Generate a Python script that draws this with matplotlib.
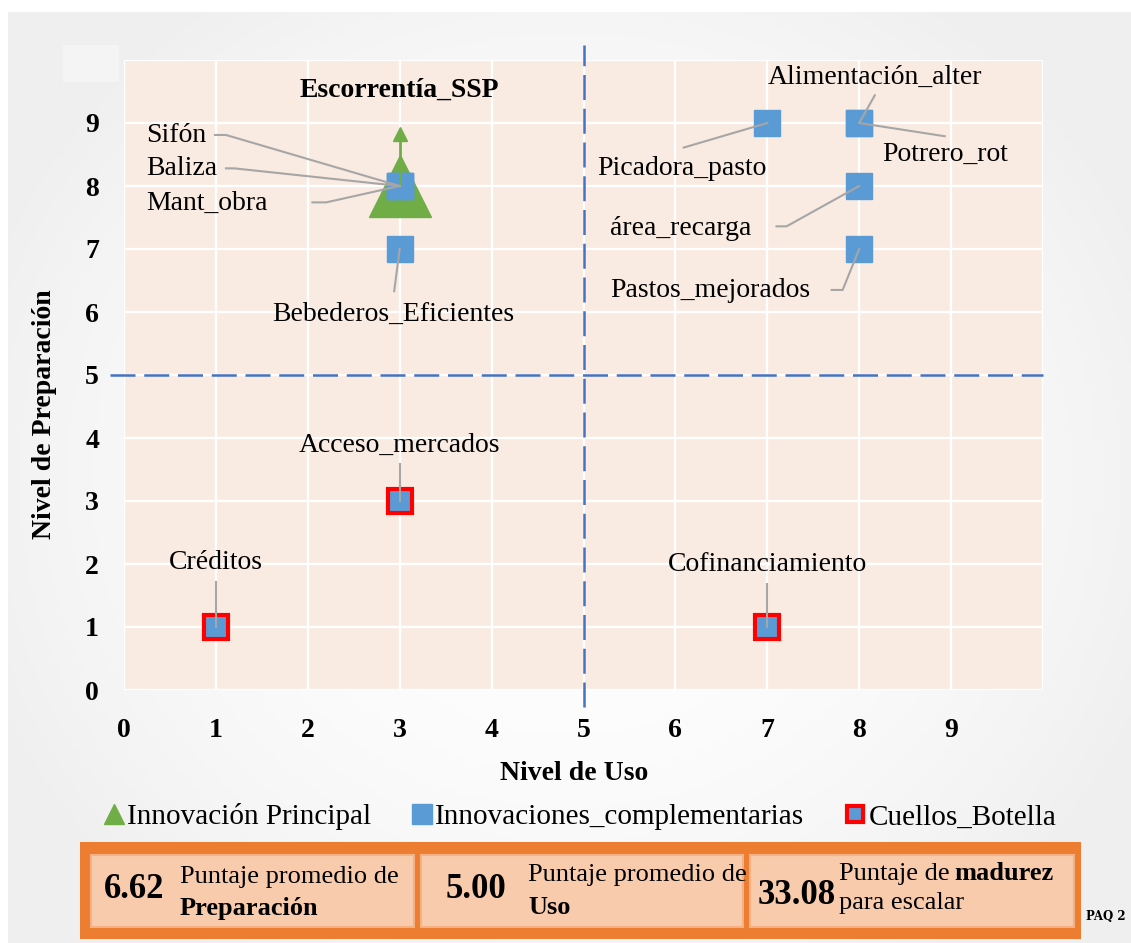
import matplotlib

matplotlib.use("Agg")
import matplotlib.pyplot as plt
import numpy as np
from matplotlib.lines import Line2D
from matplotlib.patches import Rectangle

plt.rcParams["font.family"] = ["Liberation Serif", "DejaVu Serif"]

# --- data -------------------------------------------------------------
main_names = ["Escorrentía_SSP"]
main_uso = [3]
main_prep = [8]
main_err_up = [0.82]

comp_names = [
    "Sifón", "Baliza", "Mant_obra", "Bebederos_Eficientes", "Picadora_pasto",
    "Alimentación_alter", "Potrero_rot", "área_recarga", "Pastos_mejorados",
]
comp_uso = [3, 3, 3, 3, 7, 8, 8, 8, 8]
comp_prep = [8, 8, 8, 7, 9, 9, 9, 8, 7]

neck_names = ["Acceso_mercados", "Créditos", "Cofinanciamiento"]
neck_uso = [3, 1, 7]
neck_prep = [3, 1, 1]

umbral = 5
score_values = ["6.62", "5.00", "33.08"]
score_labels = [
    ("Puntaje promedio de", "Preparación"),
    ("Puntaje promedio de", "Uso"),
    ("Puntaje de", "para escalar"),
]

legend_labels = ["Innovación Principal", "Innovaciones_complementarias", "Cuellos_Botella"]

# --- label layout: text position, alignment, leader elbow points ------
LABELS = {
    "Escorrentía_SSP": ((3.0, 9.52), "center", "bold", []),
    "Sifón": ((0.24, 8.80), "left", "normal", [(0.99, 8.81), (1.11, 8.81)]),
    "Baliza": ((0.24, 8.28), "left", "normal", [(1.11, 8.28), (1.20, 8.28)]),
    "Mant_obra": ((0.24, 7.73), "left", "normal", [(2.05, 7.74), (2.20, 7.74)]),
    "Bebederos_Eficientes": ((2.93, 5.96), "center", "normal", [(2.94, 6.33)]),
    "Picadora_pasto": ((6.07, 8.27), "center", "normal", [(6.09, 8.61)]),
    "Alimentación_alter": ((8.17, 9.73), "center", "normal", [(8.17, 9.44)]),
    "Potrero_rot": ((8.93, 8.50), "center", "normal", [(8.93, 8.79)]),
    "área_recarga": ((6.06, 7.32), "center", "normal", [(7.10, 7.36), (7.21, 7.36)]),
    "Pastos_mejorados": ((6.38, 6.34), "center", "normal", [(7.70, 6.35), (7.82, 6.35)]),
    "Acceso_mercados": ((3.0, 3.89), "center", "normal", [(3.0, 3.58)]),
    "Créditos": ((1.0, 2.03), "center", "normal", [(1.0, 1.71)]),
    "Cofinanciamiento": ((7.0, 1.99), "center", "normal", [(7.0, 1.68)]),
}

GREEN = "#70AD47"
BLUE = "#5B9BD5"
RED = "#FF0000"
DASH = "#4472C4"
LEADER = "#A6A6A6"

W, H = 1131, 943
fig = plt.figure(figsize=(W / 100, H / 100), dpi=100)
fig.patch.set_facecolor("white")

# background in pixel coordinates
bg = fig.add_axes([0, 0, 1, 1], zorder=-10)
bg.set_xlim(0, W)
bg.set_ylim(H, 0)
bg.axis("off")
gx, gy = np.meshgrid(np.linspace(-1, 1, 300), np.linspace(-1, 1, 250))
r = np.clip(np.sqrt((gx * 0.9) ** 2 + (gy * 0.8) ** 2), 0, 1)
shade = 1.0 - 0.06 * r ** 2
bg.imshow(np.dstack([shade] * 3), extent=(8, W, H, 12), aspect="auto", zorder=0)
bg.add_patch(Rectangle((63, 45), 56, 37, facecolor="white", edgecolor="none", alpha=0.35, zorder=1))

# main axes
ax = fig.add_axes([124 / W, 1 - 690 / H, 919 / W, 630 / H])
ax.set_facecolor("#FAEBE2")
ax.set_xlim(0, 10)
ax.set_ylim(0, 10)
for s in ax.spines.values():
    s.set_visible(False)
ticks = np.arange(0, 11)
ax.set_xticks(ticks)
ax.set_yticks(ticks)
ax.set_xticklabels([str(t) if t < 10 else "" for t in ticks])
ax.set_yticklabels([str(t) if t < 10 else "" for t in ticks])
ax.tick_params(length=0, labelsize=20, pad=0)
ax.tick_params(axis="x", pad=20)
ax.tick_params(axis="y", pad=18)
for lab in ax.get_xticklabels() + ax.get_yticklabels():
    lab.set_fontweight("bold")
ax.grid(True, color="white", linewidth=1.6)
ax.set_axisbelow(True)

ax.set_xlabel("Nivel de Uso", fontsize=20, fontweight="bold", va="center")
ax.xaxis.set_label_coords(0.49, -0.132)
ax.set_ylabel("Nivel de Preparación", fontsize=20, fontweight="bold", va="center")
ax.yaxis.set_label_coords(-0.086, 0.438)

# quadrant lines
hl = ax.plot([-0.15, 10], [umbral, umbral], color=DASH, lw=1.8, clip_on=False, zorder=2)[0]
vl = ax.plot([umbral, umbral], [-0.27, 10.24], color=DASH, lw=1.8, clip_on=False, zorder=2)[0]
for ln in (hl, vl):
    ln.set_dashes((10, 3.5))

# markers
ax.plot(main_uso, main_prep, "^", color=GREEN, ms=44, zorder=3)
ax.plot(comp_uso, comp_prep, "s", color=BLUE, ms=19, zorder=4)
ax.plot(neck_uso, neck_prep, "s", mfc=BLUE, mec=RED, mew=3, ms=17.5, zorder=4)
ax.errorbar(main_uso, main_prep, yerr=[[0] * len(main_err_up), main_err_up],
            fmt="none", ecolor=GREEN, elinewidth=2, capsize=0, zorder=5)
ax.plot(main_uso, np.add(main_prep, main_err_up), "^", color=GREEN, ms=10, zorder=5)

# labels and leader lines
points = {}
for names, xs, ys in ((main_names, main_uso, main_prep),
                      (comp_names, comp_uso, comp_prep),
                      (neck_names, neck_uso, neck_prep)):
    for n, x, y in zip(names, xs, ys):
        points[n] = (x, y)

for name, (x, y) in points.items():
    (tx, ty), ha, weight, elbow = LABELS[name]
    ax.text(tx, ty, name, fontsize=20, ha=ha, va="center", fontweight=weight, zorder=7)
    if elbow:
        path = elbow + [(x, y)]
        ax.plot([p[0] for p in path], [p[1] for p in path], color=LEADER, lw=1.5, zorder=6)

# legend
handles = [
    Line2D([], [], marker="^", color=GREEN, ls="", ms=14),
    Line2D([], [], marker="s", color=BLUE, ls="", ms=14.5),
    Line2D([], [], marker="s", mfc=BLUE, mec=RED, mew=3, ls="", ms=12),
]
fig.legend(handles, legend_labels, loc="center", bbox_to_anchor=(580 / W, 1 - 817 / H),
           ncol=3, frameon=False, fontsize=21, handlelength=0.7, handletextpad=0.1,
           columnspacing=1.4, borderpad=0)

# score boxes
bg.add_patch(Rectangle((80, 842), 1001, 97, facecolor="#ED7D31", edgecolor="none", zorder=2))
box_x = [(91, 414), (421, 743), (750, 1074)]
for x0, x1 in box_x:
    bg.add_patch(Rectangle((x0, 855), x1 - x0, 72, facecolor="#F8CBAD",
                           edgecolor="#F4B183", lw=1.5, zorder=3))

num_pos = [(104, 890), (446, 890), (758, 895)]
for val, (x, y) in zip(score_values, num_pos):
    bg.text(x, y, val, fontsize=25, fontweight="bold", ha="left", va="center", zorder=4)

bg.text(180, 877, score_labels[0][0], fontsize=19, ha="left", va="center", zorder=4)
bg.text(180, 908, score_labels[0][1], fontsize=19, fontweight="bold", ha="left", va="center", zorder=4)
bg.text(528, 875, score_labels[1][0], fontsize=19, ha="left", va="center", zorder=4)
bg.text(528, 908, score_labels[1][1], fontsize=19, fontweight="bold", ha="left", va="center", zorder=4)
t1 = bg.text(839, 880, score_labels[2][0], fontsize=19, ha="left", va="baseline", zorder=4)
bg.text(839, 903, score_labels[2][1], fontsize=19, ha="left", va="center", zorder=4)

fig.canvas.draw()
ext = t1.get_window_extent()
x_end = bg.transData.inverted().transform((ext.x1, ext.y0))[0]
bg.text(x_end + 5, 880, "madurez", fontsize=19, fontweight="bold", ha="left", va="baseline", zorder=4)

bg.text(1086, 917, "PAQ 2", fontsize=8.5, fontweight="bold", family="DejaVu Serif",
        ha="left", va="center", zorder=4)

fig.savefig("out.png", dpi=100)
